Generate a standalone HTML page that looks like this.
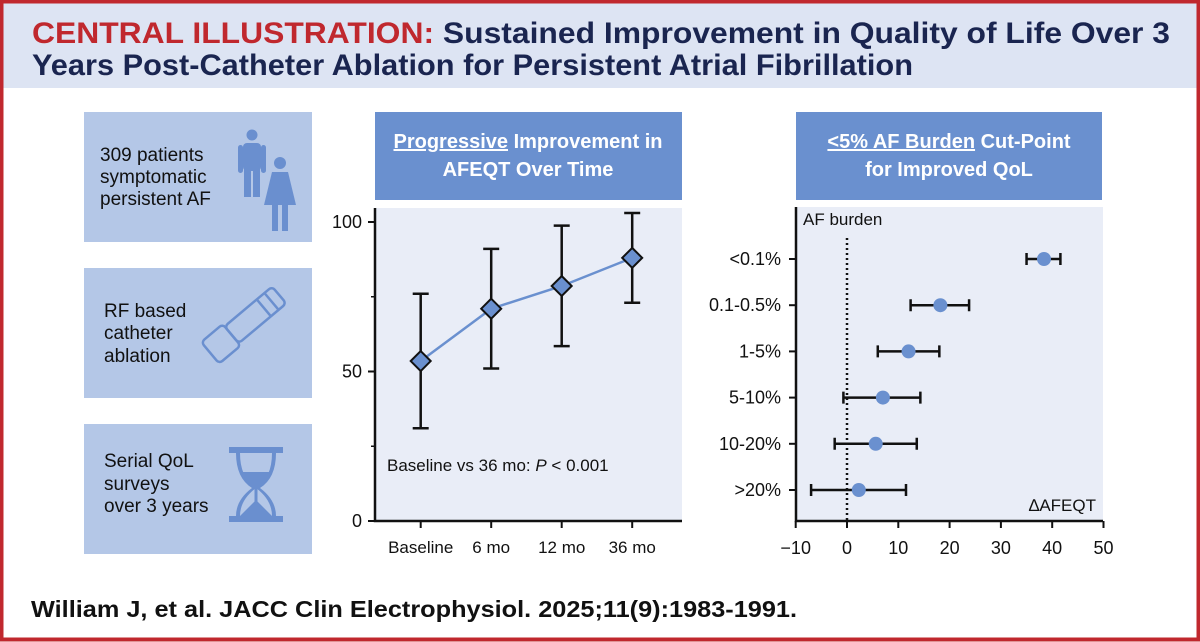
<!DOCTYPE html>
<html><head><meta charset="utf-8"><style>
html,body{margin:0;padding:0;background:#fff}
svg{display:block;font-family:"Liberation Sans",sans-serif}
</style></head><body>
<svg id="root" width="1200" height="642" viewBox="0 0 1200 642">
<rect x="0" y="0" width="1200" height="642" fill="#fff"/>
<rect x="0" y="0" width="1200" height="88" fill="#dde4f3"/>
<rect x="1.5" y="1.5" width="1197" height="638" fill="none" stroke="#c0282e" stroke-width="4"/>
<g font-weight="bold" font-size="30">
<text x="32" y="43" textLength="1138" lengthAdjust="spacingAndGlyphs"><tspan fill="#c0282e">CENTRAL ILLUSTRATION:</tspan><tspan fill="#1a2550"> Sustained Improvement in Quality of Life Over 3</tspan></text>
<text x="32" y="75" textLength="881" lengthAdjust="spacingAndGlyphs" fill="#1a2550">Years Post-Catheter Ablation for Persistent Atrial Fibrillation</text>
</g>

<!-- left info boxes -->
<g>
<rect x="84" y="112" width="228" height="130" fill="#b4c7e7"/>
<text font-size="19" fill="#111" x="100" y="161">309 patients</text>
<text font-size="19" fill="#111" x="100" y="183">symptomatic</text>
<text font-size="19" fill="#111" x="100" y="205">persistent AF</text>
<g fill="#6a8fcf">
<circle cx="252" cy="135" r="5.5"/>
<rect x="243" y="143" width="18" height="28" rx="4"/>
<rect x="238" y="145" width="5" height="28" rx="2.5"/><rect x="261" y="145" width="5" height="28" rx="2.5"/>
<rect x="244" y="168" width="7" height="29"/><rect x="253" y="168" width="7" height="29"/>
<circle cx="280" cy="163" r="6"/>
<path d="M272 172 H288 L296 205 H264 Z"/>
<rect x="272" y="203" width="6" height="28"/><rect x="282" y="203" width="6" height="28"/>
</g>
</g>
<g>
<rect x="84" y="268" width="228" height="130" fill="#b4c7e7"/>
<text font-size="19" fill="#111" x="104" y="317">RF based</text>
<text font-size="19" fill="#111" x="104" y="339">catheter</text>
<text font-size="19" fill="#111" x="104" y="362">ablation</text>
<g fill="none" stroke="#6a8fcf" stroke-width="2.5">
<g transform="translate(247 322) rotate(-40)">
<rect x="-48" y="-14" width="28" height="28" rx="4"/>
<rect x="-20" y="-11" width="62" height="22" rx="4"/>
<line x1="22" y1="-11" x2="22" y2="11"/><line x1="32" y1="-11" x2="32" y2="11"/>
</g>
</g>
</g>
<g>
<rect x="84" y="424" width="228" height="130" fill="#b4c7e7"/>
<text font-size="19" fill="#111" x="104" y="467">Serial QoL</text>
<text font-size="19" fill="#111" x="104" y="490">surveys</text>
<text font-size="19" fill="#111" x="104" y="512">over 3 years</text>
<g fill="#6a8fcf">
<rect x="229" y="447" width="54" height="6"/>
<rect x="229" y="516" width="54" height="6"/>
<path d="M236 453 Q236 478 252 488 Q236 500 236 516 L240 516 Q240 500 256 488 Q240 478 240 453 Z"/>
<path d="M276 453 Q276 478 260 488 Q276 500 276 516 L272 516 Q272 500 256 488 Q272 478 272 453 Z"/>
<path d="M242 472 H270 Q266 484 256 490 Q246 484 242 472 Z"/>
<path d="M256 500 L272 516 H240 Z"/>
<rect x="254.5" y="488" width="3" height="14"/>
</g>
</g>

<!-- left chart -->
<g>
<rect x="375" y="112" width="307" height="88" fill="#6a90cf"/>
<text x="528" y="148" text-anchor="middle" font-size="20" font-weight="bold" fill="#fff"><tspan text-decoration="underline">Progressive</tspan> Improvement in</text>
<text x="528" y="176" text-anchor="middle" font-size="20" font-weight="bold" fill="#fff">AFEQT Over Time</text>
</g>
<rect x="375" y="208" width="307" height="313" fill="#e9edf7"/>
<g id="c1"></g>

<!-- right chart -->
<g>
<rect x="796" y="112" width="306" height="88" fill="#6a90cf"/>
<text x="949" y="148" text-anchor="middle" font-size="20" font-weight="bold" fill="#fff"><tspan text-decoration="underline">&lt;5% AF Burden</tspan> Cut-Point</text>
<text x="949" y="176" text-anchor="middle" font-size="20" font-weight="bold" fill="#fff">for Improved QoL</text>
</g>
<rect x="796" y="207" width="307" height="314" fill="#e9edf7"/>
<g id="c2"></g>

<text x="31" y="617" font-size="23" font-weight="bold" fill="#111" textLength="766" lengthAdjust="spacingAndGlyphs">William J, et al. JACC Clin Electrophysiol. 2025;11(9):1983-1991.</text>
</svg>
<script>
// ---- chart 1 data
const timeCategories = ["Baseline", "6 mo", "12 mo", "36 mo"];
const afeqtMean = [53.5, 71, 78.6, 88];
const afeqtLow = [31, 51, 58.5, 73];
const afeqtHigh = [76, 91, 98.8, 103];
const yTicks1 = [0, 50, 100];
const yMinor1 = [25, 75];
// ---- chart 2 data
const burdenCategories = ["<0.1%", "0.1-0.5%", "1-5%", "5-10%", "10-20%", ">20%"];
const deltaMean = [38.4, 18.2, 12, 7, 5.6, 2.3];
const deltaLow = [35, 12.4, 6, -0.7, -2.4, -7];
const deltaHigh = [41.6, 23.8, 18, 14.3, 13.6, 11.5];
const xTicks2 = [-10, 0, 10, 20, 30, 40, 50];

const NS = "http://www.w3.org/2000/svg";
function mk(parent, tag, attrs, text) {
  const e = document.createElementNS(NS, tag);
  for (const k in attrs) e.setAttribute(k, attrs[k]);
  if (text !== undefined) e.textContent = text;
  parent.appendChild(e);
  return e;
}
// chart 1
const c1 = document.getElementById("c1");
const y1 = v => 521 - (v / 100) * 299;
const x1 = i => 420.7 + i * 70.5;
let e;
e = mk(c1, "path", {d: "M375 208 V521 H682", fill: "none", stroke: "#111", "stroke-width": 2.5});


yTicks1.forEach(t => {
  e = mk(c1, "line", {x1: 368, x2: 375, y1: y1(t), y2: y1(t), stroke: "#111", "stroke-width": 2});
  
  
  e = mk(c1, "text", {x: 362, y: y1(t) + 6, "text-anchor": "end", "font-size": 18, fill: "#111"}, String(t));
  
  
});
yMinor1.forEach(t => {
  e = mk(c1, "line", {x1: 371, x2: 375, y1: y1(t), y2: y1(t), stroke: "#111", "stroke-width": 1.5});
  
  
});
timeCategories.forEach((c, i) => {
  e = mk(c1, "line", {x1: x1(i), x2: x1(i), y1: 521, y2: 528, stroke: "#111", "stroke-width": 2});
  
  
  e = mk(c1, "text", {x: x1(i), y: 553, "text-anchor": "middle", "font-size": 17, fill: "#111"}, c);
  
  
});
e = mk(c1, "polyline", {points: afeqtMean.map((v, i) => x1(i) + "," + y1(v)).join(" "), fill: "none", stroke: "#6a90cf", "stroke-width": 2.5});


afeqtMean.forEach((v, i) => {
  const x = x1(i);
  e = mk(c1, "path", {d: `M${x} ${y1(afeqtLow[i])} V${y1(afeqtHigh[i])} M${x-8} ${y1(afeqtLow[i])} H${x+8} M${x-8} ${y1(afeqtHigh[i])} H${x+8}`, stroke: "#111", "stroke-width": 2.5, fill: "none"});
  
  
  const y = y1(v);
  e = mk(c1, "path", {d: `M${x} ${y-10} L${x+10} ${y} L${x} ${y+10} L${x-10} ${y} Z`, fill: "#6a90cf", stroke: "#111", "stroke-width": 2});
  
  
});
e = mk(c1, "text", {x: 387, y: 471, "font-size": 17, fill: "#111"});
e.innerHTML = 'Baseline vs 36 mo: <tspan font-style="italic">P</tspan> &lt; 0.001';



// chart 2
const c2 = document.getElementById("c2");
const x2 = v => 795.7 + (v + 10) * 5.13;
const y2 = i => 259 + i * 46.2;
e = mk(c2, "path", {d: "M796 207 V521 H1103", fill: "none", stroke: "#111", "stroke-width": 2.5});


e = mk(c2, "line", {x1: x2(0), x2: x2(0), y1: 238, y2: 521, stroke: "#111", "stroke-width": 2.5, "stroke-dasharray": "2 3"});


xTicks2.forEach(t => {
  e = mk(c2, "line", {x1: x2(t), x2: x2(t), y1: 521, y2: 528, stroke: "#111", "stroke-width": 2});
  
  
  e = mk(c2, "text", {x: x2(t), y: 554, "text-anchor": "middle", "font-size": 18, fill: "#111"}, t < 0 ? "\u2212" + Math.abs(t) : String(t));
  
  
});
e = mk(c2, "text", {x: 803, y: 225, "font-size": 17, fill: "#111"}, "AF burden");


e = mk(c2, "text", {x: 1096, y: 511, "text-anchor": "end", "font-size": 17, fill: "#111"}, "\u2206AFEQT");


burdenCategories.forEach((c, i) => {
  const y = y2(i);
  e = mk(c2, "line", {x1: 789, x2: 796, y1: y, y2: y, stroke: "#111", "stroke-width": 2});
  
  
  e = mk(c2, "text", {x: 781, y: y + 6, "text-anchor": "end", "font-size": 18, fill: "#111"}, c);
  
  
  const a = x2(deltaLow[i]), b = x2(deltaHigh[i]);
  e = mk(c2, "path", {d: `M${a} ${y} H${b} M${a} ${y-6} V${y+6} M${b} ${y-6} V${y+6}`, stroke: "#111", "stroke-width": 2.5, fill: "none"});
  
  
  e = mk(c2, "circle", {cx: x2(deltaMean[i]), cy: y, r: 7, fill: "#6a90cf"});
  
  
});
</script>
</body></html>
